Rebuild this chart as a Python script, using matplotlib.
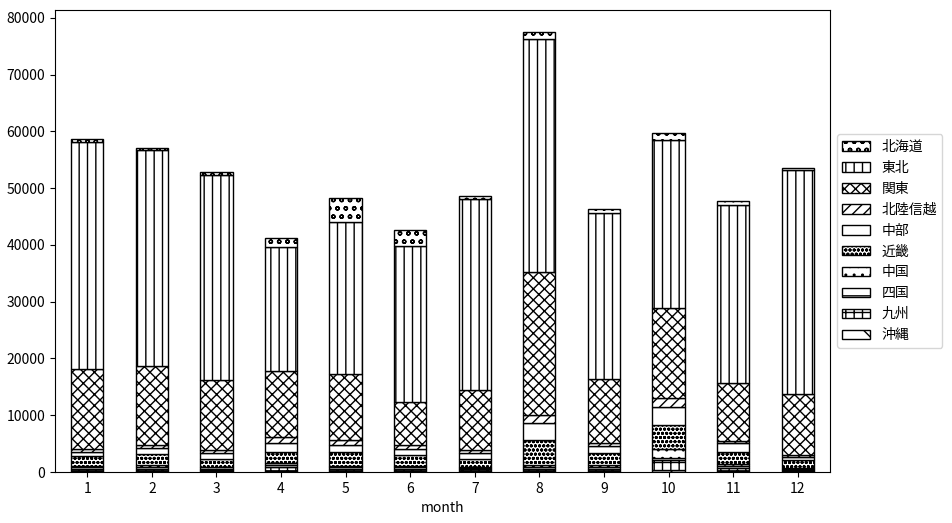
import numpy as np
import matplotlib
matplotlib.use("Agg")
import matplotlib.pyplot as plt

plt.rcParams['font.family'] = ['Noto Sans CJK JP', 'DejaVu Sans']

months = [1, 2, 3, 4, 5, 6, 7, 8, 9, 10, 11, 12]
regions = ['北海道', '東北', '関東', '北陸信越', '中部', '近畿', '中国', '四国', '九州', '沖縄']

# values per region (stacked bottom -> top is reverse of this list)
hokkaido = [600, 300, 500, 1600, 4300, 2800, 600, 1200, 700, 1200, 700, 300]
tohoku = [39900, 38100, 36100, 21800, 26800, 27400, 33600, 41100, 29200, 29700, 31400, 39400]
kanto = [14200, 13850, 12330, 11600, 11570, 7650, 10530, 25200, 11240, 15830, 10100, 10800]
hokuriku = [400, 600, 570, 1150, 930, 700, 520, 1450, 660, 1520, 400, 350]
chubu = [800, 1000, 1000, 1450, 1200, 1100, 1100, 3000, 1100, 3100, 1500, 600]
kinki = [1700, 2000, 1400, 2000, 2400, 1850, 1300, 4300, 2100, 4300, 2200, 1300]
chugoku = [300, 300, 300, 400, 300, 300, 300, 400, 400, 1600, 400, 200]
shikoku = [200, 300, 200, 300, 300, 300, 200, 400, 300, 300, 300, 150]
kyushu = [500, 450, 300, 800, 400, 400, 350, 300, 500, 1800, 600, 300]
okinawa = [100, 100, 100, 100, 100, 100, 100, 150, 100, 350, 100, 100]

series = [hokkaido, tohoku, kanto, hokuriku, chubu, kinki, chugoku, shikoku, kyushu, okinawa]
hatches = ['oo', '||', 'xxx', '///', '', 'oooo', '..', '--', '++', '\\']

fig = plt.figure(figsize=(9.52, 5.23), dpi=100)
ax = fig.add_axes([0.0578, 0.0975, 0.814, 0.8835])

x = np.arange(len(months))
bottom = np.zeros(len(months))
for name, vals, h in zip(regions[::-1], series[::-1], hatches[::-1]):
    ax.bar(x, vals, 0.5, bottom=bottom, color='white', edgecolor='black',
           hatch=h, label=name)
    bottom += np.array(vals)

ax.set_xlim(-0.5, 11.5)
ax.set_xticks(x)
ax.set_xticklabels([str(m) for m in months])
ax.set_xlabel('month')

# legend: top of stack first
handles, labels = ax.get_legend_handles_labels()
ax.legend(handles[::-1], labels[::-1], loc='center left', bbox_to_anchor=(1, 0.5))

fig.savefig('out.png', dpi=100)
